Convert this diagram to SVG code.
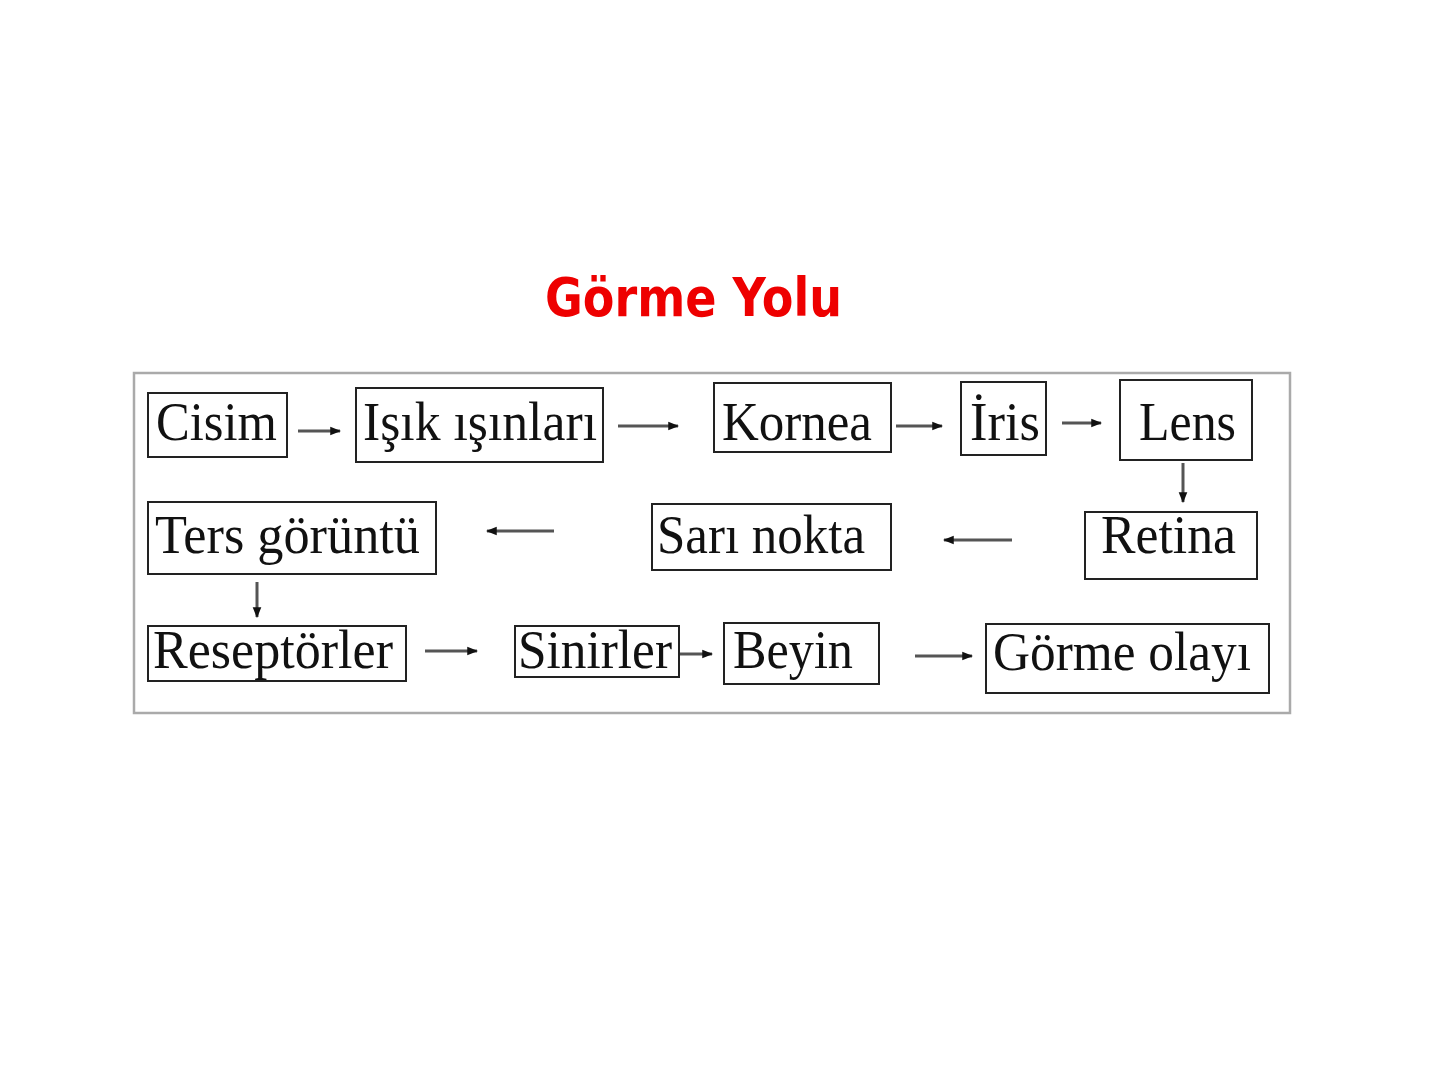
<svg xmlns="http://www.w3.org/2000/svg" width="1440" height="1080" viewBox="0 0 1440 1080">
<style>
.box{fill:#fff;stroke:#222;stroke-width:2}
.lbl{font-family:"Liberation Serif","Times New Roman",serif;font-size:54px;fill:#111}
.con{stroke:#555;stroke-width:3;fill:none}
.title{font-family:"DejaVu Sans","Liberation Sans",sans-serif;font-weight:bold;font-size:54px;fill:#ee0000}
</style>
<defs>
<marker id="ah" viewBox="0 0 10 10" refX="9" refY="5" markerWidth="3.6" markerHeight="3.6" orient="auto" markerUnits="strokeWidth">
<path d="M0,1 L10,5 L0,9 z" fill="#111"/>
</marker>
</defs>
<rect width="1440" height="1080" fill="#fff"/>
<text class="title" x="545" y="316" textLength="297" lengthAdjust="spacingAndGlyphs">Görme Yolu</text>
<rect x="134" y="373" width="1156" height="340" fill="#fff" stroke="#aaa" stroke-width="2.5"/>
<g id="cisim"><rect class="box" x="148" y="393" width="139" height="64"/><text class="lbl" x="156" y="440" textLength="121" lengthAdjust="spacingAndGlyphs">Cisim</text></g>
<g id="isik"><rect class="box" x="356" y="388" width="247" height="74"/><text class="lbl" x="363" y="440" textLength="234" lengthAdjust="spacingAndGlyphs">Işık ışınları</text></g>
<g id="kornea"><rect class="box" x="714" y="383" width="177" height="69"/><text class="lbl" x="722" y="440" textLength="150" lengthAdjust="spacingAndGlyphs">Kornea</text></g>
<g id="iris"><rect class="box" x="961" y="382" width="85" height="73"/><text class="lbl" x="970" y="440" textLength="70" lengthAdjust="spacingAndGlyphs">İris</text></g>
<g id="lens"><rect class="box" x="1120" y="380" width="132" height="80"/><text class="lbl" x="1139" y="440" textLength="97" lengthAdjust="spacingAndGlyphs">Lens</text></g>
<g id="retina"><rect class="box" x="1085" y="512" width="172" height="67"/><text class="lbl" x="1101" y="553" textLength="135" lengthAdjust="spacingAndGlyphs">Retina</text></g>
<g id="sari"><rect class="box" x="652" y="504" width="239" height="66"/><text class="lbl" x="657" y="553" textLength="208" lengthAdjust="spacingAndGlyphs">Sarı nokta</text></g>
<g id="ters"><rect class="box" x="148" y="502" width="288" height="72"/><text class="lbl" x="155" y="553" textLength="265" lengthAdjust="spacingAndGlyphs">Ters görüntü</text></g>
<g id="reseptorler"><rect class="box" x="148" y="626" width="258" height="55"/><text class="lbl" x="153" y="668" textLength="240" lengthAdjust="spacingAndGlyphs">Reseptörler</text></g>
<g id="sinirler"><rect class="box" x="515" y="626" width="164" height="51"/><text class="lbl" x="518" y="668" textLength="154" lengthAdjust="spacingAndGlyphs">Sinirler</text></g>
<g id="beyin"><rect class="box" x="724" y="623" width="155" height="61"/><text class="lbl" x="733" y="668" textLength="120" lengthAdjust="spacingAndGlyphs">Beyin</text></g>
<g id="gorme"><rect class="box" x="986" y="624" width="283" height="69"/><text class="lbl" x="993" y="670" textLength="258" lengthAdjust="spacingAndGlyphs">Görme olayı</text></g>
<g id="connectors">
<line class="con" x1="298" y1="431" x2="340" y2="431" marker-end="url(#ah)"/>
<line class="con" x1="618" y1="426" x2="678" y2="426" marker-end="url(#ah)"/>
<line class="con" x1="896" y1="426" x2="942" y2="426" marker-end="url(#ah)"/>
<line class="con" x1="1062" y1="423" x2="1101" y2="423" marker-end="url(#ah)"/>
<line class="con" x1="1183" y1="463" x2="1183" y2="502" marker-end="url(#ah)"/>
<line class="con" x1="1012" y1="540" x2="944" y2="540" marker-end="url(#ah)"/>
<line class="con" x1="554" y1="531" x2="487" y2="531" marker-end="url(#ah)"/>
<line class="con" x1="257" y1="582" x2="257" y2="617" marker-end="url(#ah)"/>
<line class="con" x1="425" y1="651" x2="477" y2="651" marker-end="url(#ah)"/>
<line class="con" x1="680" y1="654" x2="712" y2="654" marker-end="url(#ah)"/>
<line class="con" x1="915" y1="656" x2="972" y2="656" marker-end="url(#ah)"/>
</g>
</svg>
